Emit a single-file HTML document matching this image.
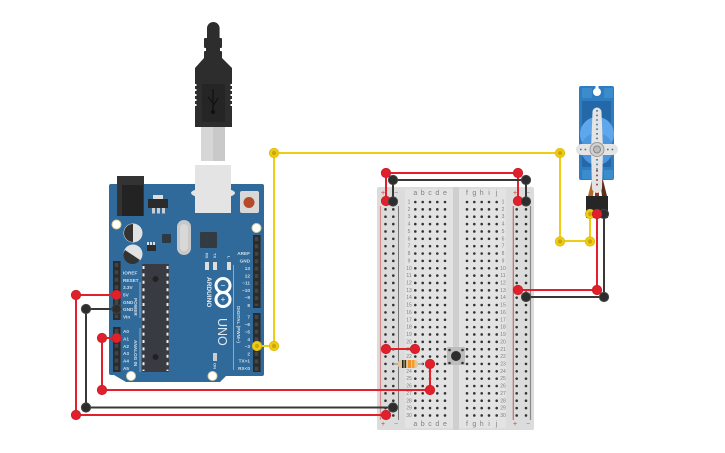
<!DOCTYPE html>
<html><head><meta charset="utf-8">
<style>
html,body{margin:0;padding:0;background:#fff}
svg{display:block}
text{font-family:"Liberation Sans",sans-serif}
.h{fill:none;stroke:#333;stroke-width:2.6;stroke-linecap:round;stroke-dasharray:0 7.36}
.l{font-size:4.7px;fill:#d3dfe9;font-weight:bold}
.n{font-size:5px;fill:#808080}
.c{font-size:7px;fill:#808080}
.r{fill:none;stroke:#e2202c;stroke-width:2}
.k{fill:none;stroke:#383838;stroke-width:2}
.y{fill:none;stroke:#f0cc14;stroke-width:2}
</style></head><body>
<svg width="725" height="453" viewBox="0 0 725 453" xmlns="http://www.w3.org/2000/svg">
<!-- breadboard -->
<rect x="377" y="187" width="157" height="243" rx="2" fill="#dcdcdc"/>
<rect x="405" y="189" width="48" height="239" fill="#e3e3e3"/>
<rect x="459" y="189" width="47" height="239" fill="#e3e3e3"/>
<rect x="453" y="187" width="6" height="243" fill="#cfcfcf"/>
<path d="M380.500 206V420" stroke="#d98a8a" stroke-width="1.200" fill="none"/>
<path d="M398.500 206V420" stroke="#777" stroke-width="1" fill="none"/>
<path d="M513.300 206V420" stroke="#c96a6a" stroke-width="1.200" fill="none"/>
<path d="M530.500 206V420" stroke="#888" stroke-width="1.200" fill="none"/>
<path class="h" d="M385.500 202V418"/><path class="h" d="M393.300 202V418"/>
<path class="h" d="M415.300 202V418"/><path class="h" d="M422.700 202V418"/><path class="h" d="M430 202V418"/><path class="h" d="M437.300 202V418"/><path class="h" d="M445 202V418"/>
<path class="h" d="M467 202V418"/><path class="h" d="M474.300 202V418"/><path class="h" d="M481.700 202V418"/><path class="h" d="M489 202V418"/><path class="h" d="M496.700 202V418"/>
<path class="h" d="M516.700 202V418"/><path class="h" d="M526 202V418"/>
<g class="c" text-anchor="middle">
<text x="415.300" y="195">a</text><text x="422.700" y="195">b</text><text x="430" y="195">c</text><text x="437.300" y="195">d</text><text x="445" y="195">e</text>
<text x="467" y="195">f</text><text x="474.300" y="195">g</text><text x="481.700" y="195">h</text><text x="489" y="195">i</text><text x="496.700" y="195">j</text>
<text x="415.300" y="426">a</text><text x="422.700" y="426">b</text><text x="430" y="426">c</text><text x="437.300" y="426">d</text><text x="445" y="426">e</text>
<text x="467" y="426">f</text><text x="474.300" y="426">g</text><text x="481.700" y="426">h</text><text x="489" y="426">i</text><text x="496.700" y="426">j</text>
<text x="383" y="195" style="fill:#d33">+</text><text x="396" y="195">−</text><text x="515" y="195" style="fill:#d33">+</text><text x="528" y="195">−</text>
<text x="383" y="426" style="fill:#d33">+</text><text x="396" y="426">−</text><text x="515" y="426" style="fill:#d33">+</text><text x="528" y="426">−</text>
</g>
<g class="n" text-anchor="middle">
<text x="409" y="203.500">1</text><text x="409" y="211">2</text><text x="409" y="218.200">3</text><text x="409" y="225.600">4</text><text x="409" y="233">5</text><text x="409" y="240.300">6</text><text x="409" y="247.700">7</text><text x="409" y="255">8</text><text x="409" y="262.400">9</text><text x="409" y="269.800">10</text><text x="409" y="277.100">11</text><text x="409" y="284.500">12</text><text x="409" y="291.900">13</text><text x="409" y="299.200">14</text><text x="409" y="306.600">15</text><text x="409" y="314">16</text><text x="409" y="321.300">17</text><text x="409" y="328.700">18</text><text x="409" y="336">19</text><text x="409" y="343.400">20</text><text x="409" y="350.800">21</text><text x="409" y="358.100">22</text><text x="409" y="365.500">23</text><text x="409" y="372.900">24</text><text x="409" y="380.200">25</text><text x="409" y="387.600">26</text><text x="409" y="395">27</text><text x="409" y="402.300">28</text><text x="409" y="409.700">29</text><text x="409" y="417">30</text>
<text x="503" y="203.500">1</text><text x="503" y="211">2</text><text x="503" y="218.200">3</text><text x="503" y="225.600">4</text><text x="503" y="233">5</text><text x="503" y="240.300">6</text><text x="503" y="247.700">7</text><text x="503" y="255">8</text><text x="503" y="262.400">9</text><text x="503" y="269.800">10</text><text x="503" y="277.100">11</text><text x="503" y="284.500">12</text><text x="503" y="291.900">13</text><text x="503" y="299.200">14</text><text x="503" y="306.600">15</text><text x="503" y="314">16</text><text x="503" y="321.300">17</text><text x="503" y="328.700">18</text><text x="503" y="336">19</text><text x="503" y="343.400">20</text><text x="503" y="350.800">21</text><text x="503" y="358.100">22</text><text x="503" y="365.500">23</text><text x="503" y="372.900">24</text><text x="503" y="380.200">25</text><text x="503" y="387.600">26</text><text x="503" y="395">27</text><text x="503" y="402.300">28</text><text x="503" y="409.700">29</text><text x="503" y="417">30</text>
</g>
<!-- resistor -->
<path d="M393 364H423" stroke="#a0a0a0" stroke-width="1.500"/>
<rect x="398" y="360" width="20" height="8" rx="3" fill="#e3c997"/>
<rect x="402" y="360" width="1.600" height="8" fill="#222"/><rect x="404.500" y="360" width="1.600" height="8" fill="#333"/><rect x="408" y="360" width="3" height="8" fill="#f0902a"/><rect x="412" y="360" width="2.500" height="8" fill="#f0a030"/>
<!-- pushbutton -->
<rect x="447" y="347" width="18" height="18" rx="1" fill="#bdbdbd"/>
<circle cx="456" cy="356" r="5" fill="#2d2d2d"/>
<circle cx="449.500" cy="350" r="1.300" fill="#333"/><circle cx="462.500" cy="350" r="1.300" fill="#333"/><circle cx="449.500" cy="363" r="1.300" fill="#333"/><circle cx="462.500" cy="363" r="1.300" fill="#333"/>

<!-- USB -->
<rect x="207" y="22" width="12.600" height="22" rx="6.300" fill="#2d2d2d"/>
<rect x="204" y="38" width="18" height="10" rx="1" fill="#2d2d2d"/>
<rect x="206" y="48" width="14" height="11" fill="#2d2d2d"/>
<rect x="204" y="51" width="18" height="8" rx="1" fill="#2d2d2d"/>
<path d="M204 58H222L232 68V127H195V68Z" fill="#2d2d2d"/>
<path d="M195 84h1.500v2h-1.500zM195 89h1.500v2h-1.500zM195 94h1.500v2h-1.500zM195 99h1.500v2h-1.500zM195 104h1.500v2h-1.500zM230.500 84h1.500v2h-1.500zM230.500 89h1.500v2h-1.500zM230.500 94h1.500v2h-1.500zM230.500 99h1.500v2h-1.500zM230.500 104h1.500v2h-1.500z" fill="#fff"/>
<rect x="202" y="84" width="23" height="38" fill="#252525"/>
<path d="M213 89V111M213 103L208 97M213 106L218 98" stroke="#111" stroke-width="1.200" fill="none"/><circle cx="213" cy="112" r="2.200" fill="#111"/>
<rect x="201" y="127" width="24" height="34" fill="#c9c9c9"/><rect x="201" y="127" width="12" height="34" fill="#d6d6d6"/>
<!-- Arduino board -->
<path d="M111 184H262Q264 184 264 186V374Q264 376 262 376H226L220 382H126L114 375H111Q109 375 109 373V186Q109 184 111 184Z" fill="#2f6a9a"/>
<rect x="117" y="176" width="27" height="40" fill="#333"/>
<rect x="122" y="185" width="21" height="31" fill="#232323"/>
<ellipse cx="213" cy="193" rx="22" ry="5.500" fill="#e4e4e4"/>
<rect x="195" y="165" width="36" height="48" fill="#e4e4e4"/>
<rect x="240" y="191" width="19" height="22" rx="2" fill="#d8d8d8"/>
<circle cx="249" cy="202.500" r="5.500" fill="#b5492a"/>
<rect x="148" y="199" width="20" height="9" fill="#2b2b2b"/>
<rect x="153" y="195" width="10" height="4" fill="#ddd"/>
<rect x="152" y="208" width="3" height="5.500" fill="#ccc"/><rect x="157" y="208" width="3" height="5.500" fill="#ccc"/><rect x="162" y="208" width="3" height="5.500" fill="#ccc"/>
<circle cx="116.500" cy="224.500" r="4.500" fill="#fff" stroke="#d8cfa0"/>
<circle cx="256.500" cy="228" r="4.500" fill="#fff" stroke="#d8cfa0"/>
<circle cx="131" cy="376" r="4.500" fill="#fff" stroke="#d8cfa0"/>
<circle cx="212.500" cy="376" r="4.500" fill="#fff" stroke="#d8cfa0"/>
<circle cx="133" cy="233" r="9.500" fill="#e2e2e2"/><path d="M133 224A9 9 0 0 0 133 242Z" fill="#333"/>
<circle cx="133" cy="254" r="9.500" fill="#e2e2e2"/><path d="M125 250A9 9 0 0 0 140 260Z" fill="#333"/>
<rect x="177" y="220" width="14" height="35" rx="7" fill="#c8c8c8"/><rect x="180" y="224" width="8" height="27" rx="4" fill="#d8d8d8"/>
<rect x="162" y="234" width="9" height="9" rx="1" fill="#2b3a44"/>
<rect x="200" y="232" width="17" height="16" rx="1" fill="#333b42"/>
<rect x="147" y="245" width="9" height="6" fill="#2d2d2d"/>
<rect x="147" y="242" width="2" height="3" fill="#ddd"/><rect x="150" y="242" width="2" height="3" fill="#ddd"/><rect x="153" y="242" width="2" height="3" fill="#ddd"/>
<rect x="205" y="262" width="4" height="8" fill="#ddd"/><rect x="213" y="262" width="4" height="8" fill="#ddd"/><rect x="227" y="262" width="4" height="8" fill="#ddd"/>
<text transform="translate(205.500 253) rotate(90)" class="l" style="font-size:4px">RX</text>
<text transform="translate(213.500 253) rotate(90)" class="l" style="font-size:4px">TX</text>
<text transform="translate(227.500 256) rotate(90)" class="l" style="font-size:4px">L</text>
<!-- IC -->
<rect x="142" y="264" width="27" height="108" rx="1" fill="#383c42"/>
<path d="M143.500 266V371M167.500 266V371" stroke="#eee" stroke-width="2" stroke-dasharray="3 4.400" fill="none"/>
<circle cx="155.500" cy="279" r="3" fill="#222"/><circle cx="155.500" cy="357" r="3" fill="#222"/>
<!-- headers -->
<rect x="113" y="261" width="7.600" height="59" fill="#2b2b2b"/>
<rect x="113" y="327" width="7.600" height="45" fill="#2b2b2b"/>
<rect x="253" y="235" width="7.600" height="73" fill="#2b2b2b"/>
<rect x="253" y="313" width="7.600" height="59" fill="#2b2b2b"/>
<path d="M116.500 263V318M116.500 329V371M256.500 237V306M256.500 315V371" stroke="#444" stroke-width="3.500" stroke-dasharray="4 3.400" fill="none"/>
<!-- silkscreen -->
<g class="l">
<text x="123" y="274.500">IOREF</text><text x="123" y="282">RESET</text><text x="123" y="289">3.3V</text><text x="123" y="296.500">5V</text><text x="123" y="304">GND</text><text x="123" y="311">GND</text><text x="123" y="318.500">Vin</text>
<text x="123" y="333">A0</text><text x="123" y="340.500">A1</text><text x="123" y="348">A2</text><text x="123" y="355">A3</text><text x="123" y="362.500">A4</text><text x="123" y="370">A5</text>
</g>
<g class="l" text-anchor="end">
<text x="250" y="255">AREF</text><text x="250" y="262.500">GND</text><text x="250" y="270">13</text><text x="250" y="277.500">12</text><text x="250" y="284.500">~11</text><text x="250" y="292">~10</text><text x="250" y="299">~9</text><text x="250" y="307">8</text>
<text x="250" y="318.500">7</text><text x="250" y="326">~6</text><text x="250" y="333.500">~5</text><text x="250" y="341">4</text><text x="250" y="348">~3</text><text x="250" y="355.500">2</text><text x="250" y="362.500">TX&gt;1</text><text x="250" y="370">RX&lt;0</text>
</g>
<path d="M140 282V318M140 328V372M233.500 265V370" stroke="#cfe0ee" stroke-width=".8" fill="none" opacity=".7"/>
<text transform="translate(134 298) rotate(90)" class="l">POWER</text>
<text transform="translate(134 340) rotate(90)" class="l">ANALOG IN</text>
<text transform="translate(237 306) rotate(90)" class="l">DIGITAL (PWM~)</text>
<text transform="translate(207 277) rotate(90)" class="l" style="font-size:6.500px;fill:#e6edf3">ARDUINO</text>
<text transform="translate(218 318) rotate(90)" font-size="12.500" fill="#dfe8f0">UNO</text>
<g fill="none" stroke="#fff" stroke-width="3"><circle cx="223" cy="285.500" r="7"/><circle cx="223" cy="299.500" r="7"/></g>
<text x="223" y="288" font-size="8" fill="#fff" text-anchor="middle">−</text><text x="223" y="302" font-size="8" fill="#fff" text-anchor="middle">+</text>
<rect x="213" y="353" width="4" height="8" fill="#ccc"/>
<text transform="translate(213.500 363) rotate(90)" class="l" style="font-size:4px">ON</text>

<!-- servo -->
<path d="M592 180L588 196H593L595 180Z" fill="#b5682a"/>
<path d="M595 180V196H599V180Z" fill="#9c2a24"/>
<path d="M600 180L602 196H607L603 180Z" fill="#5c2e1e"/>
<rect x="579" y="86" width="35" height="94" rx="2" fill="#2f7dc0"/>
<rect x="582" y="101" width="29" height="66" fill="#2468a8"/>
<rect x="582" y="88" width="10" height="10" fill="#3b8ccc"/><rect x="604" y="88" width="9" height="10" fill="#3b8ccc"/>
<rect x="582" y="170" width="10" height="9" fill="#3b8ccc"/><rect x="604" y="170" width="9" height="9" fill="#3b8ccc"/>
<circle cx="597" cy="92" r="4" fill="#fff"/><rect x="595.500" y="86" width="3" height="5" fill="#fff"/>
<circle cx="597" cy="134" r="17" fill="#5fa6ec"/>
<circle cx="597" cy="149" r="16" fill="#4d95dc"/>
<path d="M592.500 112A4.500 4.500 0 0 1 601.500 112L603 150L602 188A5 5 0 0 1 592 188L591 150Z" fill="#e4e4e4"/>
<rect x="576" y="144" width="42" height="11" rx="5.500" fill="#e4e4e4"/>
<path d="M597 110V142" stroke="#3f6f98" stroke-width="1.600" stroke-dasharray="1.600 3" fill="none"/>
<path d="M597 159V170" stroke="#3f6f98" stroke-width="1.600" stroke-dasharray="1.600 3" fill="none"/>
<path d="M597 170V188" stroke="#8a2a2a" stroke-width="1.600" stroke-dasharray="1.600 3" fill="none"/>
<path d="M580 149.500H587M607 149.500H614" stroke="#3f6f98" stroke-width="1.600" stroke-dasharray="1.600 3" fill="none"/>
<circle cx="597" cy="149.500" r="7" fill="#d0d0d0" stroke="#999"/><circle cx="597" cy="149.500" r="3.500" fill="#bbb" stroke="#888"/>
<rect x="586" y="196" width="22" height="22" fill="#262626"/>

<!-- wires -->
<path class="r" d="M76 295H116M76 295V415H386M116 338H102V390H430V364M386 349H415M386 201V173H518V201M518 290H597V214"/>
<path class="k" d="M116 309H86V407.500H393M393 201V180H526V201M526 297H604V214"/>
<path class="y" d="M257 346H274V153H560V241H590V214"/>

<!-- endpoints -->
<g fill="#e2202c" stroke="#c8202a" stroke-width="1">
<circle cx="116.500" cy="295" r="4.600"/><circle cx="76" cy="295" r="4.600"/><circle cx="76" cy="415" r="4.600"/><circle cx="386" cy="415" r="4.600"/>
<circle cx="116.500" cy="338" r="4.600"/><circle cx="102" cy="338" r="4.600"/><circle cx="102" cy="390" r="4.600"/><circle cx="430" cy="390" r="4.600"/><circle cx="430" cy="364" r="4.600"/>
<circle cx="386" cy="349" r="4.600"/><circle cx="415" cy="349" r="4.600"/>
<circle cx="386" cy="201" r="4.600"/><circle cx="386" cy="173" r="4.600"/><circle cx="518" cy="173" r="4.600"/><circle cx="518" cy="201" r="4.600"/>
<circle cx="518" cy="290" r="4.600"/><circle cx="597" cy="290" r="4.600"/>
</g>
<g fill="#2d2d2d" stroke="#444" stroke-width="1">
<circle cx="116.500" cy="309" r="4.600"/><circle cx="86" cy="309" r="4.600"/><circle cx="86" cy="407.500" r="4.600"/><circle cx="393" cy="407.500" r="4.600"/>
<circle cx="393" cy="180" r="4.600"/><circle cx="526" cy="180" r="4.600"/><circle cx="393" cy="201.500" r="4.600"/><circle cx="526" cy="201.500" r="4.600"/>
<circle cx="526" cy="297" r="4.600"/><circle cx="604" cy="297" r="4.600"/><circle cx="604" cy="214" r="4.600"/>
</g>
<g fill="#f0cc14" stroke="#e0bc10" stroke-width="1">
<circle cx="257" cy="346" r="4.600"/><circle cx="274" cy="346" r="4.600"/><circle cx="274" cy="153" r="4.600"/><circle cx="560" cy="153" r="4.600"/><circle cx="560" cy="241.500" r="4.600"/><circle cx="590" cy="241.500" r="4.600"/><circle cx="590" cy="214" r="4.600"/>
</g>
<g fill="#c9a80a"><circle cx="257" cy="346" r="2.200"/><circle cx="274" cy="346" r="2.200"/><circle cx="274" cy="153" r="2.200"/><circle cx="560" cy="153" r="2.200"/><circle cx="560" cy="241.500" r="2.200"/><circle cx="590" cy="241.500" r="2.200"/><circle cx="590" cy="214" r="2.200"/></g>
<circle cx="597" cy="214" r="4.600" fill="#e2202c" stroke="#c8202a"/>
</svg>
</body></html>
